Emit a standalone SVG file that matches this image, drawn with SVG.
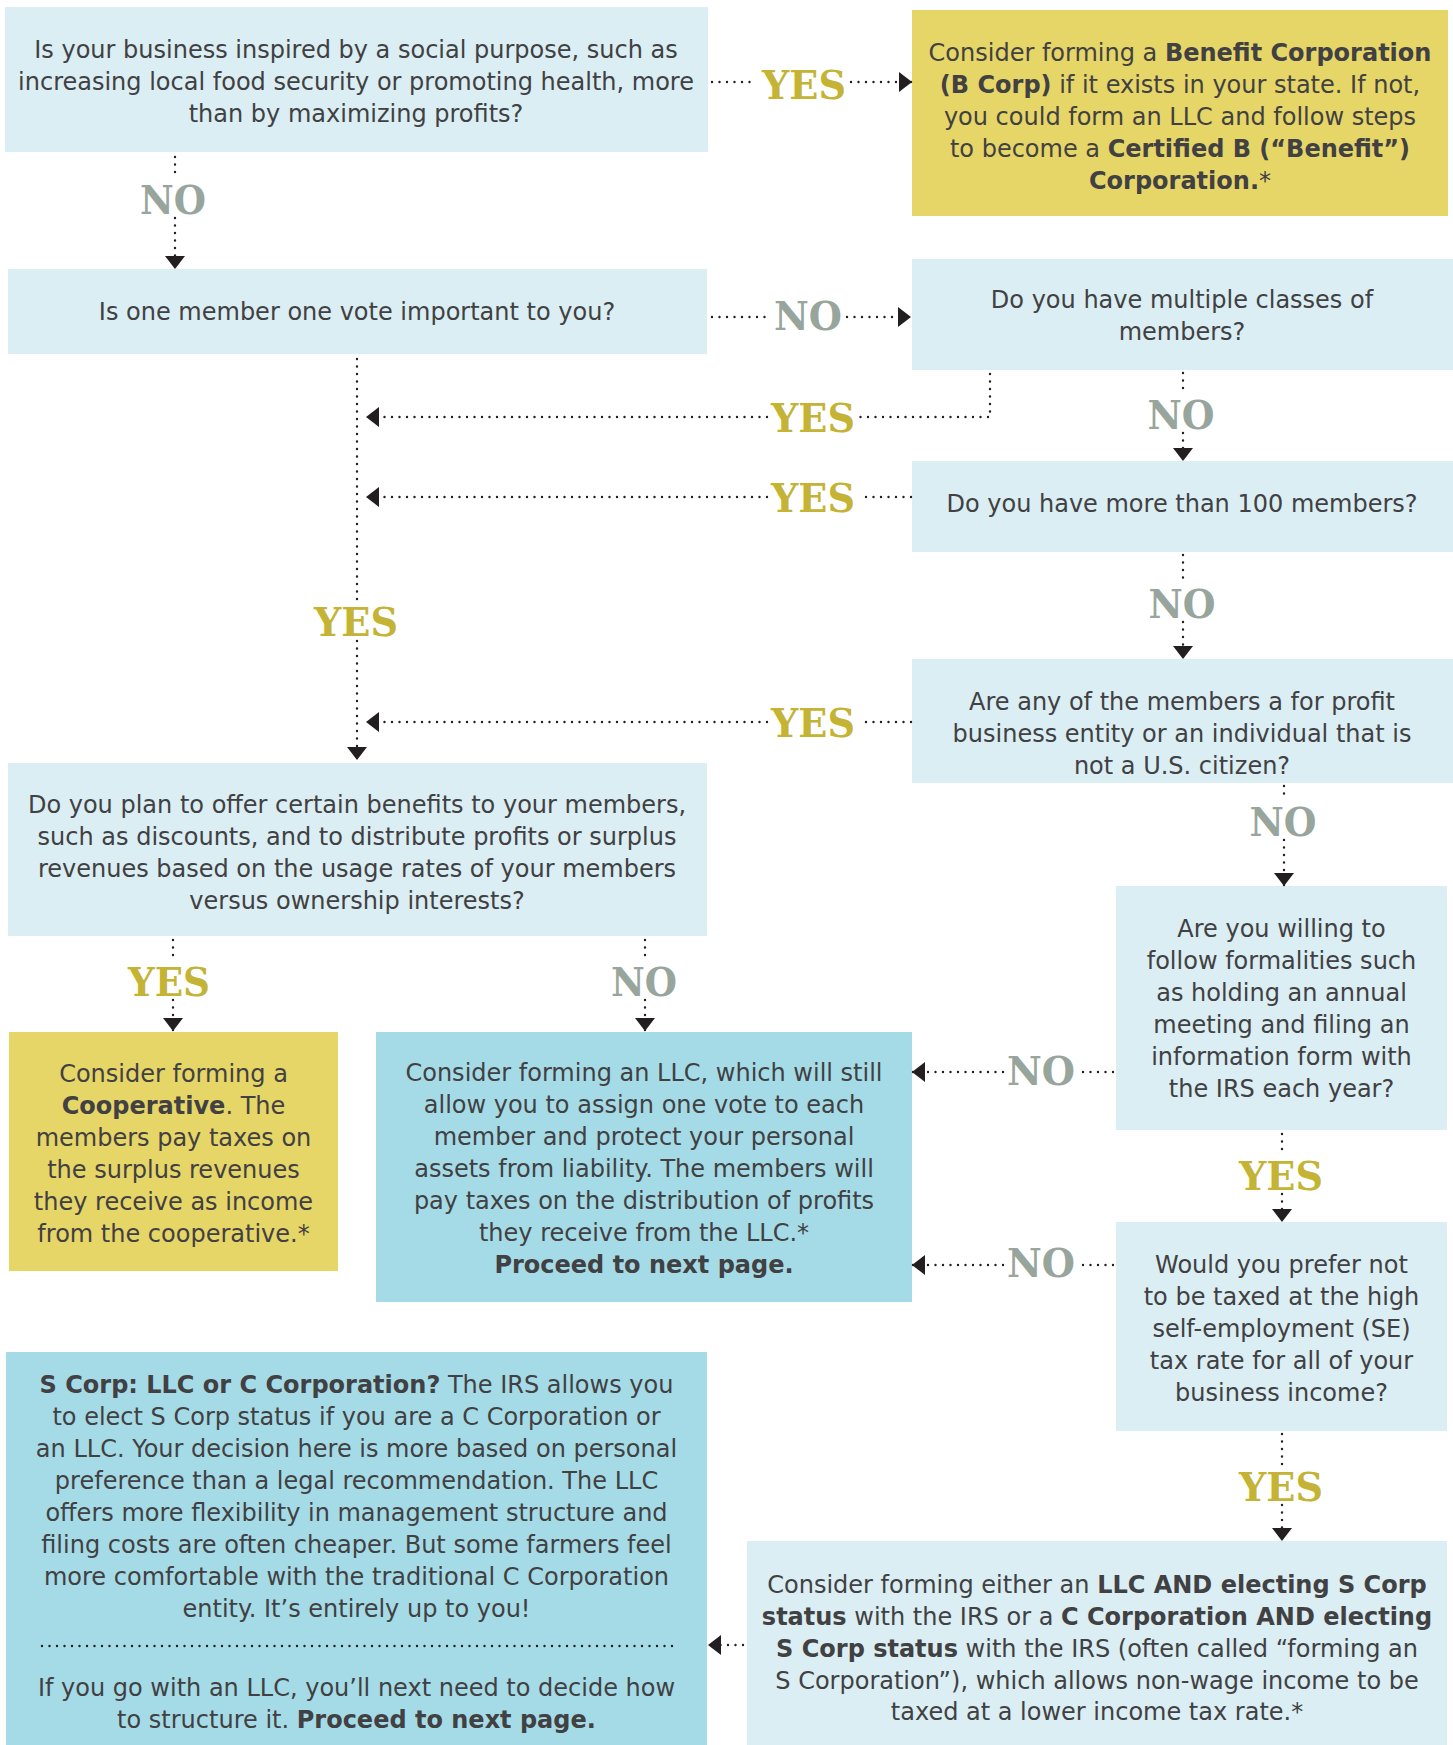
<svg xmlns="http://www.w3.org/2000/svg" width="1453" height="1745" viewBox="0 0 1453 1745">
<defs>
<style>
.q{fill:#daeef3}
.y{fill:#e6d567}
.d{fill:#a5dbe6}
.t{font-family:"DejaVu Sans",Verdana,sans-serif;font-size:24px;fill:#414042;text-anchor:middle}
.b{font-weight:bold}
.c{fill:none;stroke:#231f20;stroke-width:2.4;stroke-linecap:round;stroke-dasharray:0 7.5}
.lbl{font-family:"DejaVu Serif",serif;font-weight:bold;font-size:40px;text-anchor:middle}
.yes{fill:#c4b334}
.no{fill:#97a59c}
</style>
<marker id="ah" markerUnits="userSpaceOnUse" markerWidth="13" markerHeight="20" refX="13" refY="10" orient="auto" viewBox="0 0 13 20"><path d="M0,0 L13,10 L0,20 Z" fill="#231f20"/></marker>
</defs>
<rect width="1453" height="1745" fill="#ffffff"/>

<g id="q-social">
<rect class="q" x="5" y="7" width="703" height="145"/>
<text class="t" x="356" y="58">Is your business inspired by a social purpose, such as</text>
<text class="t" x="356" y="90">increasing local food security or promoting health, more</text>
<text class="t" x="356" y="122">than by maximizing profits?</text>
</g>

<g id="r-bcorp">
<rect class="y" x="912" y="10" width="536" height="206"/>
<text class="t" x="1180" y="61">Consider forming a <tspan class="b">Benefit Corporation</tspan></text>
<text class="t" x="1180" y="93"><tspan class="b">(B Corp)</tspan> if it exists in your state. If not,</text>
<text class="t" x="1180" y="125">you could form an LLC and follow steps</text>
<text class="t" x="1180" y="157">to become a <tspan class="b">Certified B (“Benefit”)</tspan></text>
<text class="t" x="1180" y="189"><tspan class="b">Corporation.</tspan>*</text>
</g>

<g id="q-vote">
<rect class="q" x="8" y="269" width="699" height="85"/>
<text class="t" x="357" y="320">Is one member one vote important to you?</text>
</g>

<g id="q-classes">
<rect class="q" x="912" y="259" width="541" height="111"/>
<text class="t" x="1182" y="308">Do you have multiple classes of</text>
<text class="t" x="1182" y="340">members?</text>
</g>

<g id="q-100">
<rect class="q" x="912" y="461" width="541" height="91"/>
<text class="t" x="1182" y="512">Do you have more than 100 members?</text>
</g>

<g id="q-forprofit">
<rect class="q" x="912" y="659" width="541" height="124"/>
<text class="t" x="1182" y="710">Are any of the members a for profit</text>
<text class="t" x="1182" y="742">business entity or an individual that is</text>
<text class="t" x="1182" y="774">not a U.S. citizen?</text>
</g>

<g id="q-benefits">
<rect class="q" x="8" y="763" width="699" height="173"/>
<text class="t" x="357" y="813">Do you plan to offer certain benefits to your members,</text>
<text class="t" x="357" y="845">such as discounts, and to distribute profits or surplus</text>
<text class="t" x="357" y="877">revenues based on the usage rates of your members</text>
<text class="t" x="357" y="909">versus ownership interests?</text>
</g>

<g id="r-coop">
<rect class="y" x="9" y="1032" width="329" height="239"/>
<text class="t" x="173.5" y="1082">Consider forming a</text>
<text class="t" x="173.5" y="1114"><tspan class="b">Cooperative</tspan>. The</text>
<text class="t" x="173.5" y="1146">members pay taxes on</text>
<text class="t" x="173.5" y="1178">the surplus revenues</text>
<text class="t" x="173.5" y="1210">they receive as income</text>
<text class="t" x="173.5" y="1242">from the cooperative.*</text>
</g>

<g id="r-llc">
<rect class="d" x="376" y="1032" width="536" height="270"/>
<text class="t" x="644" y="1081">Consider forming an LLC, which will still</text>
<text class="t" x="644" y="1113">allow you to assign one vote to each</text>
<text class="t" x="644" y="1145">member and protect your personal</text>
<text class="t" x="644" y="1177">assets from liability. The members will</text>
<text class="t" x="644" y="1209">pay taxes on the distribution of profits</text>
<text class="t" x="644" y="1241">they receive from the LLC.*</text>
<text class="t b" x="644" y="1273">Proceed to next page.</text>
</g>

<g id="q-formalities">
<rect class="q" x="1116" y="886" width="331" height="244"/>
<text class="t" x="1281.5" y="937">Are you willing to</text>
<text class="t" x="1281.5" y="969">follow formalities such</text>
<text class="t" x="1281.5" y="1001">as holding an annual</text>
<text class="t" x="1281.5" y="1033">meeting and filing an</text>
<text class="t" x="1281.5" y="1065">information form with</text>
<text class="t" x="1281.5" y="1097">the IRS each year?</text>
</g>

<g id="q-setax">
<rect class="q" x="1116" y="1222" width="331" height="209"/>
<text class="t" x="1281.5" y="1273">Would you prefer not</text>
<text class="t" x="1281.5" y="1305">to be taxed at the high</text>
<text class="t" x="1281.5" y="1337">self-employment (SE)</text>
<text class="t" x="1281.5" y="1369">tax rate for all of your</text>
<text class="t" x="1281.5" y="1401">business income?</text>
</g>

<g id="r-scorp">
<rect class="q" x="747" y="1541" width="700" height="204"/>
<text class="t" x="1097" y="1593">Consider forming either an <tspan class="b">LLC AND electing S Corp</tspan></text>
<text class="t" x="1097" y="1625"><tspan class="b">status</tspan> with the IRS or a <tspan class="b">C Corporation AND electing</tspan></text>
<text class="t" x="1097" y="1657"><tspan class="b">S Corp status</tspan> with the IRS (often called “forming an</text>
<text class="t" x="1097" y="1689">S Corporation”), which allows non-wage income to be</text>
<text class="t" x="1097" y="1720">taxed at a lower income tax rate.*</text>
</g>

<g id="n-scorp-choice">
<rect class="d" x="6" y="1352" width="701" height="393"/>
<text class="t" x="356.5" y="1393"><tspan class="b">S Corp: LLC or C Corporation?</tspan> The IRS allows you</text>
<text class="t" x="356.5" y="1425">to elect S Corp status if you are a C Corporation or</text>
<text class="t" x="356.5" y="1457">an LLC. Your decision here is more based on personal</text>
<text class="t" x="356.5" y="1489">preference than a legal recommendation. The LLC</text>
<text class="t" x="356.5" y="1521">offers more flexibility in management structure and</text>
<text class="t" x="356.5" y="1553">filing costs are often cheaper. But some farmers feel</text>
<text class="t" x="356.5" y="1585">more comfortable with the traditional C Corporation</text>
<text class="t" x="356.5" y="1617">entity. It’s entirely up to you!</text>
<path class="c" d="M42,1646 H674"/>
<text class="t" x="356.5" y="1696">If you go with an LLC, you’ll next need to decide how</text>
<text class="t" x="356.5" y="1728">to structure it. <tspan class="b">Proceed to next page.</tspan></text>
</g>

<g id="connectors">
<path class="c" d="M712,82 H757"/>
<path class="c" d="M851,82 H912" marker-end="url(#ah)"/>
<text class="lbl yes" x="804" y="99" textLength="84" lengthAdjust="spacingAndGlyphs">YES</text>

<path class="c" d="M175,157 V178"/>
<path class="c" d="M175,218 V269" marker-end="url(#ah)"/>
<text class="lbl no" x="173" y="214" textLength="66" lengthAdjust="spacingAndGlyphs">NO</text>

<path class="c" d="M712,317 H769"/>
<path class="c" d="M847,317 H911" marker-end="url(#ah)"/>
<text class="lbl no" x="808" y="330" textLength="68" lengthAdjust="spacingAndGlyphs">NO</text>

<path class="c" d="M990,374 V417 H860"/>
<path class="c" d="M767,417 H366" marker-end="url(#ah)"/>
<text class="lbl yes" x="813" y="432" textLength="84" lengthAdjust="spacingAndGlyphs">YES</text>

<path class="c" d="M1183,373 V395"/>
<path class="c" d="M1183,433 V461" marker-end="url(#ah)"/>
<text class="lbl no" x="1181" y="429" textLength="67" lengthAdjust="spacingAndGlyphs">NO</text>

<path class="c" d="M911,497 H860"/>
<path class="c" d="M767,497 H366" marker-end="url(#ah)"/>
<text class="lbl yes" x="813" y="512" textLength="84" lengthAdjust="spacingAndGlyphs">YES</text>

<path class="c" d="M1183,555 V583"/>
<path class="c" d="M1183,622 V659" marker-end="url(#ah)"/>
<text class="lbl no" x="1182" y="618" textLength="67" lengthAdjust="spacingAndGlyphs">NO</text>

<path class="c" d="M911,722 H860"/>
<path class="c" d="M767,722 H366" marker-end="url(#ah)"/>
<text class="lbl yes" x="813" y="737" textLength="84" lengthAdjust="spacingAndGlyphs">YES</text>

<path class="c" d="M357,359 V600"/>
<path class="c" d="M357,641 V760" marker-end="url(#ah)"/>
<text class="lbl yes" x="356" y="636" textLength="84" lengthAdjust="spacingAndGlyphs">YES</text>

<path class="c" d="M173,940 V962"/>
<path class="c" d="M173,1000 V1031" marker-end="url(#ah)"/>
<text class="lbl yes" x="169" y="996" textLength="82" lengthAdjust="spacingAndGlyphs">YES</text>

<path class="c" d="M645,940 V962"/>
<path class="c" d="M645,1000 V1031" marker-end="url(#ah)"/>
<text class="lbl no" x="644" y="996" textLength="66" lengthAdjust="spacingAndGlyphs">NO</text>

<path class="c" d="M1284,786 V801"/>
<path class="c" d="M1284,840 V886" marker-end="url(#ah)"/>
<text class="lbl no" x="1283" y="836" textLength="67" lengthAdjust="spacingAndGlyphs">NO</text>

<path class="c" d="M1113,1072 H1080"/>
<path class="c" d="M1003,1072 H912" marker-end="url(#ah)"/>
<text class="lbl no" x="1041" y="1085" textLength="68" lengthAdjust="spacingAndGlyphs">NO</text>

<path class="c" d="M1282,1134 V1156"/>
<path class="c" d="M1282,1194 V1222" marker-end="url(#ah)"/>
<text class="lbl yes" x="1281" y="1190" textLength="84" lengthAdjust="spacingAndGlyphs">YES</text>

<path class="c" d="M1113,1265 H1080"/>
<path class="c" d="M1003,1265 H912" marker-end="url(#ah)"/>
<text class="lbl no" x="1041" y="1277" textLength="68" lengthAdjust="spacingAndGlyphs">NO</text>

<path class="c" d="M1282,1434 V1467"/>
<path class="c" d="M1282,1505 V1541" marker-end="url(#ah)"/>
<text class="lbl yes" x="1281" y="1501" textLength="84" lengthAdjust="spacingAndGlyphs">YES</text>

<path class="c" d="M743,1645 H708" marker-end="url(#ah)"/>
</g>
</svg>
